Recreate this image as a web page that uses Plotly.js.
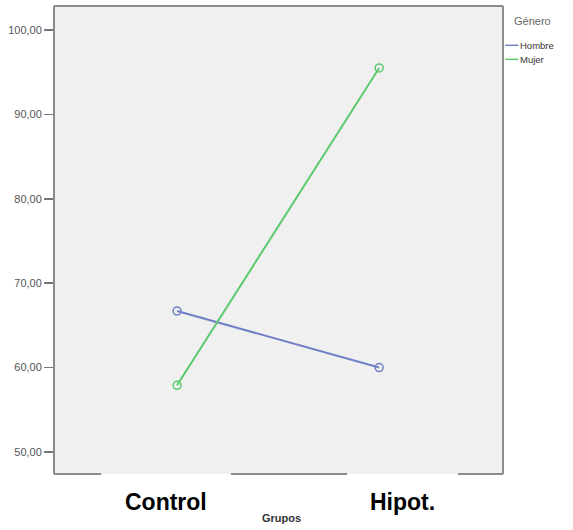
<!DOCTYPE html>
<html>
<head>
<meta charset="utf-8">
<script src="https://cdn.plot.ly/plotly-3.0.1.min.js"></script>
<style>html,body{margin:0;padding:0;background:#fff;}#chart{width:573px;height:530px;}</style>
</head>
<body>
<div id="chart"></div>
<script>
var groups = ["Control", "Hipot."];
var hombre = [66.7, 60.0];
var mujer = [57.9, 95.5];
var seriesNames = ["Hombre", "Mujer"];
var yTicks = [50, 60, 70, 80, 90, 100];

var colH = "#7080c6";
var colM = "#5cc96c";
var border = "#8c8c8c";

var traces = [
  {x: groups, y: hombre, name: seriesNames[0], type: "scatter", mode: "lines+markers",
   line: {color: colH, width: 2}, marker: {symbol: "circle-open", size: 8, color: colH, line: {width: 1.5, color: colH}}},
  {x: groups, y: mujer, name: seriesNames[1], type: "scatter", mode: "lines+markers",
   line: {color: colM, width: 2}, marker: {symbol: "circle-open", size: 8, color: colM, line: {width: 1.5, color: colM}}}
];

function seg(x0, y0, x1, y1) {
  return {type: "line", xref: "paper", yref: "paper", x0: x0, y0: y0, x1: x1, y1: y1,
          line: {color: border, width: 2}, layer: "above"};
}

var shapes = [
  seg(0, 0, 0, 1), seg(0, 1, 1, 1), seg(1, 0, 1, 1),
  seg(0, 0, 0.105, 0), seg(0.394, 0, 0.653, 0), seg(0.900, 0, 1, 0),
  // legend line samples
  {type: "line", xref: "paper", yref: "paper", x0: 1.005, x1: 1.034, y0: 0.916, y1: 0.916, line: {color: colH, width: 1.5}},
  {type: "line", xref: "paper", yref: "paper", x0: 1.005, x1: 1.034, y0: 0.886, y1: 0.886, line: {color: colM, width: 1.5}}
];

var annotations = [
  {text: "<b>Control</b>", xref: "paper", yref: "paper", x: (166 - 54) / 449, y: -0.06, yanchor: "middle", xanchor: "center",
   showarrow: false, font: {family: "Liberation Sans, Arial", size: 23, color: "#000"}},
  {text: "<b>Hipot.</b>", xref: "paper", yref: "paper", x: (402 - 54) / 449, y: -0.06, yanchor: "middle", xanchor: "center",
   showarrow: false, font: {family: "Liberation Sans, Arial", size: 23, color: "#000"}},
  {text: "<b>Grupos</b>", xref: "paper", yref: "paper", x: (281 - 54) / 449, y: -0.095, yanchor: "middle", xanchor: "center",
   showarrow: false, font: {family: "Liberation Sans, Arial", size: 11, color: "#333"}},
  {text: "Género", xref: "paper", yref: "paper", x: 1.02, y: 0.969, xanchor: "left", yanchor: "middle",
   showarrow: false, font: {family: "Liberation Sans, Arial", size: 11, color: "#666"}},
  {text: seriesNames[0], xref: "paper", yref: "paper", x: 1.033, y: 0.916, xanchor: "left", yanchor: "middle",
   showarrow: false, font: {family: "Liberation Sans, Arial", size: 9.5, color: "#333"}},
  {text: seriesNames[1], xref: "paper", yref: "paper", x: 1.033, y: 0.886, xanchor: "left", yanchor: "middle",
   showarrow: false, font: {family: "Liberation Sans, Arial", size: 9.5, color: "#333"}}
];

var layout = {
  width: 573, height: 530,
  margin: {l: 54, r: 70, t: 6, b: 56, pad: 0},
  paper_bgcolor: "#ffffff",
  plot_bgcolor: "#f0f0f0",
  separators: ", ",
  showlegend: false,
  xaxis: {type: "category", range: [-0.609, 1.613], showticklabels: false, ticks: "", showgrid: false,
          zeroline: false, showline: false, fixedrange: true},
  yaxis: {range: [47.39, 102.84], tickvals: yTicks, tickformat: ".2f", ticks: "outside", ticklen: 9,
          tickcolor: "#777", tickwidth: 1.5, showgrid: false, zeroline: false, showline: false,
          tickfont: {family: "Liberation Sans, Arial", size: 11, color: "#555"}, fixedrange: true},
  shapes: shapes,
  annotations: annotations
};

Plotly.newPlot("chart", traces, layout, {displayModeBar: false, staticPlot: true});
</script>
</body>
</html>
